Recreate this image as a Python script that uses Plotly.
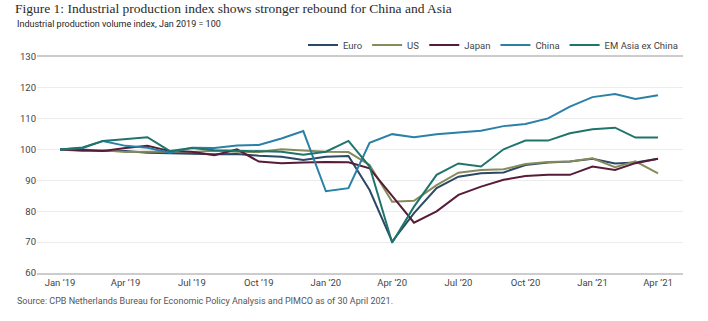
import plotly.graph_objects as go
import pandas as pd

# Monthly index, Jan 2019 = 100
months = pd.date_range("2019-01-01", "2021-04-01", freq="MS").strftime("%Y-%m-%d").tolist()

euro = [100.0, 100.0, 99.5, 99.5, 99.0, 98.8, 98.8, 98.5, 98.6, 98.0, 97.7, 96.6,
        97.7, 97.9, 86.9, 70.2, 79.4, 87.5, 91.2, 92.3, 92.6, 95.0, 95.8, 96.1,
        97.0, 95.5, 95.8, 97.0]
us = [100.0, 99.5, 99.8, 99.2, 99.3, 99.4, 99.2, 99.6, 99.3, 99.2, 100.1, 99.6,
      99.3, 99.2, 95.0, 83.1, 83.4, 88.5, 92.5, 93.4, 93.6, 95.3, 96.0, 96.1,
      97.2, 94.3, 96.2, 92.3]
japan = [100.0, 99.8, 99.5, 100.5, 101.2, 99.5, 99.3, 98.2, 100.1, 96.1, 95.6, 95.8,
         96.0, 95.9, 93.9, 85.0, 76.3, 80.0, 85.3, 88.0, 90.2, 91.4, 91.8, 91.8,
         94.5, 93.4, 95.6, 97.0]
china = [100.0, 100.5, 102.8, 101.2, 100.6, 99.0, 100.6, 100.5, 101.3, 101.5, 103.6, 106.0,
         86.5, 87.5, 102.2, 105.0, 104.0, 105.0, 105.5, 106.1, 107.6, 108.3, 110.1, 113.9,
         117.0, 118.0, 116.4, 117.6]
em_asia = [100.0, 100.7, 102.8, 103.5, 104.0, 99.5, 100.5, 99.8, 99.6, 99.5, 99.3, 98.3,
           99.3, 102.8, 94.5, 69.8, 81.5, 91.8, 95.5, 94.5, 100.1, 102.9, 102.9, 105.3,
           106.6, 107.1, 103.9, 103.9]

series_names = ["Euro", "US", "Japan", "China", "EM Asia ex China"]
series_values = [euro, us, japan, china, em_asia]
series_colors = ["#2b4866", "#878a5a", "#561c38", "#2b80a6", "#1f746b"]

tick_dates = ["2019-01-01", "2019-04-01", "2019-07-01", "2019-10-01", "2020-01-01",
              "2020-04-01", "2020-07-01", "2020-10-01", "2021-01-01", "2021-04-01"]
tick_labels = ["Jan ’19", "Apr ’19", "Jul ’19", "Oct ’19", "Jan ’20",
               "Apr ’20", "Jul ’20", "Oct ’20", "Jan ’21", "Apr ’21"]

fig = go.Figure()
for name, vals, col in zip(series_names, series_values, series_colors):
    fig.add_trace(go.Scatter(x=months, y=vals, name=name, mode="lines",
                             line=dict(color=col, width=2)))

font_sans = "Roboto, Arial, sans-serif"

fig.update_layout(
    width=708, height=321,
    margin=dict(l=37, r=25, t=57, b=48),
    paper_bgcolor="white", plot_bgcolor="white",
    font=dict(family=font_sans, size=9.5, color="#444"),
    title=dict(text="Figure 1: Industrial production index shows stronger rebound for China and Asia",
               x=15 / 708, xanchor="left", xref="container",
               y=1 - 8 / 321, yanchor="middle", yref="container",
               font=dict(family="Liberation Serif, serif", size=13.5, color="#2a2a2a")),
    legend=dict(orientation="h", x=1, xanchor="right", y=(273 - 45) / 216, yanchor="middle",
                font=dict(size=9.5, color="#444"), bgcolor="rgba(0,0,0,0)",
                itemwidth=30, traceorder="normal"),
    showlegend=True,
    xaxis=dict(range=["2018-11-30 10:00", "2021-05-05 07:00"],
               tickvals=tick_dates, ticktext=tick_labels,
               showgrid=False, showline=True, mirror=True,
               linecolor="#cccccc", linewidth=1.5, ticks="",
               tickfont=dict(size=9.5, color="#444"), zeroline=False),
    yaxis=dict(range=[60, 130], dtick=10, tick0=60,
               showgrid=True, gridcolor="#ececec", gridwidth=1,
               showline=False, zeroline=False, ticks="",
               tickfont=dict(size=9.5, color="#444")),
    annotations=[
        dict(text="Industrial production volume index, Jan 2019 = 100",
             xref="paper", yref="paper", x=(15 - 37) / 646, y=(273 - 24) / 216,
             xanchor="left", yanchor="middle", showarrow=False,
             font=dict(family=font_sans, size=9, color="#1e1e1e")),
        dict(text="Source: CPB Netherlands Bureau for Economic Policy Analysis and PIMCO as of 30 April 2021.",
             xref="paper", yref="paper", x=(15 - 37) / 646, y=(273 - 301) / 216,
             xanchor="left", yanchor="middle", showarrow=False,
             font=dict(family=font_sans, size=9, color="#555")),
    ],
)

fig.write_html("out.html")
